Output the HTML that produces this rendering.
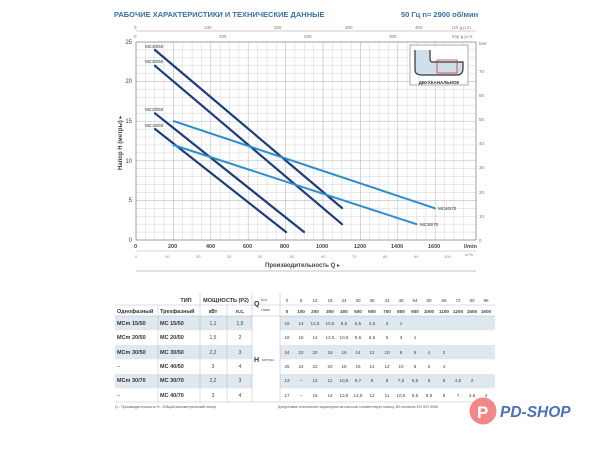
<!DOCTYPE html>
<html><head><meta charset="utf-8"><style>
html,body{margin:0;padding:0;background:#fff;width:600px;height:449px;overflow:hidden}
text{font-family:"Liberation Sans","DejaVu Sans",sans-serif}
</style></head><body>
<svg width="600" height="449" viewBox="0 0 600 449" xmlns="http://www.w3.org/2000/svg">
<text x="114" y="17" font-size="7.5" font-weight="bold" fill="#3b6fa8">РАБОЧИЕ ХАРАКТЕРИСТИКИ И ТЕХНИЧЕСКИЕ ДАННЫЕ</text>
<text x="401" y="17" font-size="7.5" font-weight="bold" fill="#3b6fa8">50 Гц   n= 2900 об/мин</text>
<g stroke="#d0d4d8" stroke-width="0.5">
<path d="M145.35 42V240M154.7 42V240M164.05 42V240M173.4 42V240M182.75 42V240M192.1 42V240M201.45 42V240M210.8 42V240M220.15 42V240M229.5 42V240M238.85 42V240M248.2 42V240M257.55 42V240M266.9 42V240M276.25 42V240M285.6 42V240M294.95 42V240M304.3 42V240M313.65 42V240M323 42V240M332.35 42V240M341.7 42V240M351.05 42V240M360.4 42V240M369.75 42V240M379.1 42V240M388.45 42V240M397.8 42V240M407.15 42V240M416.5 42V240M425.85 42V240M435.2 42V240M444.55 42V240M453.9 42V240M463.25 42V240"/>
<path d="M136 232.08H476M136 224.16H476M136 216.24H476M136 208.32H476M136 200.4H476M136 192.48H476M136 184.56H476M136 176.64H476M136 168.72H476M136 160.8H476M136 152.88H476M136 144.96H476M136 137.04H476M136 129.12H476M136 121.2H476M136 113.28H476M136 105.36H476M136 97.44H476M136 89.52H476M136 81.6H476M136 73.68H476M136 65.76H476M136 57.84H476M136 49.92H476"/>
</g>
<g stroke="#b8bcc0" stroke-width="0.5">
<path d="M173.4 42V240M210.8 42V240M248.2 42V240M285.6 42V240M323 42V240M360.4 42V240M397.8 42V240M435.2 42V240M136 200.4H476M136 160.8H476M136 121.2H476M136 81.6H476"/>
</g>
<rect x="136" y="42" width="340" height="198" fill="none" stroke="#777" stroke-width="0.7"/>
<line x1="136" y1="31" x2="476" y2="31" stroke="#999" stroke-width="0.5"/>
<g font-size="4.5" fill="#777">
<text x="134" y="29">0</text><text x="204" y="29">100</text><text x="274" y="29">200</text><text x="345" y="29">300</text><text x="415" y="29">400</text><text x="452" y="29">US g.p.m.</text>
<text x="134" y="38">0</text><text x="219" y="38">100</text><text x="304" y="38">200</text><text x="389" y="38">300</text><text x="452" y="38">Imp g.p.m.</text>
</g>
<g font-size="6" fill="#444" text-anchor="end">
<text x="132" y="44">25</text><text x="132" y="83">20</text><text x="132" y="123">15</text><text x="132" y="163">10</text><text x="132" y="202">5</text><text x="132" y="242">0</text>
</g>
<text transform="translate(122,170) rotate(-90)" font-size="6" font-weight="bold" fill="#444">Напор H (метры) ▸</text>
<g font-size="4.5" fill="#777">
<text x="479" y="45">feet</text><text x="479" y="73">70</text><text x="479" y="97">60</text><text x="479" y="121">50</text><text x="479" y="145">40</text><text x="479" y="169">30</text><text x="479" y="194">20</text><text x="479" y="218">10</text><text x="479" y="242">0</text>
</g>
<g font-size="5.5" fill="#444" font-weight="bold">
<text x="134" y="248">0</text><text x="168" y="248">200</text><text x="206" y="248">400</text><text x="243" y="248">600</text><text x="280" y="248">800</text><text x="316" y="248">1000</text><text x="354" y="248">1200</text><text x="391" y="248">1400</text><text x="428" y="248">1600</text><text x="464" y="248">l/min</text>
</g>
<line x1="136" y1="251" x2="476" y2="251" stroke="#aaa" stroke-width="0.5"/>
<g font-size="4" fill="#888">
<text x="135" y="258">0</text><text x="165" y="258">10</text><text x="196" y="258">20</text><text x="227" y="258">30</text><text x="258" y="258">40</text><text x="290" y="258">50</text><text x="321" y="258">60</text><text x="352" y="258">70</text><text x="383" y="258">80</text><text x="414" y="258">90</text><text x="444" y="258">100</text><text x="465" y="256">m³/h</text>
</g>
<text x="265" y="267" font-size="6" font-weight="bold" fill="#444">Производительность Q ▸</text>
<line x1="136" y1="271" x2="476" y2="271" stroke="#888" stroke-width="0.5"/>
<rect x="410" y="45" width="58" height="40" fill="#fff" stroke="#888" stroke-width="0.7"/>
<path d="M415 50 V70 Q415 75 422 75 H457 Q463 75 463 68 V62 H432 Q430 62 430 58 V50" fill="#cfe0ec" stroke="#333" stroke-width="1.2"/>
<rect x="437" y="60" width="20" height="13" fill="none" stroke="#c33" stroke-width="0.8"/>
<text x="439" y="84" font-size="4.5" font-weight="bold" fill="#333" text-anchor="middle">ДВУХКАНАЛЬНОЕ</text>
<g stroke="#1f3c7a" stroke-width="2.2" stroke-linecap="round">
<line x1="155" y1="50" x2="342" y2="208"/>
<line x1="155" y1="65.8" x2="342" y2="224.2"/>
<line x1="155" y1="113.3" x2="304" y2="232"/>
<line x1="155" y1="129" x2="286" y2="232"/>
</g>
<g stroke="#2a8fcb" stroke-width="2" stroke-linecap="round">
<line x1="174" y1="121.2" x2="435" y2="208.3"/>
<line x1="173.4" y1="145" x2="416.5" y2="224.2"/>
</g>
<g font-size="4.5" fill="#333">
<text x="145" y="48">MC40/50</text><text x="145" y="63">MC30/50</text><text x="145" y="111">MC20/50</text><text x="145" y="127">MC15/50</text>
<text x="438" y="210">MC40/70</text><text x="420" y="226">MC30/70</text>
</g>
<g>
<rect x="115" y="316" width="380" height="14.3" fill="#dfe7ef"/>
<rect x="115" y="345" width="380" height="14.3" fill="#dfe7ef"/>
<rect x="115" y="374" width="380" height="14.3" fill="#dfe7ef"/>
<rect x="252" y="316" width="28" height="86" fill="#fff"/>
<g stroke="#aab" stroke-width="0.4">
<line x1="115" y1="305" x2="495" y2="305"/><line x1="115" y1="316" x2="495" y2="316"/><line x1="115" y1="402" x2="495" y2="402"/>
<line x1="158" y1="305" x2="158" y2="402"/><line x1="200" y1="293" x2="200" y2="402"/><line x1="227" y1="305" x2="227" y2="402"/><line x1="252" y1="293" x2="252" y2="402"/><line x1="280" y1="293" x2="280" y2="402"/>
</g>
<text x="186" y="302" font-size="5.5" font-weight="bold" fill="#333" text-anchor="middle">ТИП</text>
<text x="226" y="302" font-size="5.5" font-weight="bold" fill="#333" text-anchor="middle">МОЩНОСТЬ (P2)</text>
<text x="117" y="313" font-size="5.5" font-weight="bold" fill="#333">Однофазный</text>
<text x="160" y="313" font-size="5.5" font-weight="bold" fill="#333">Трехфазный</text>
<text x="213" y="313" font-size="5" font-weight="bold" fill="#333" text-anchor="middle">кВт</text>
<text x="240" y="313" font-size="5" font-weight="bold" fill="#333" text-anchor="middle">л.с.</text>
<text x="254" y="306" font-size="7" font-weight="bold" fill="#333">Q</text>
<text x="261" y="301" font-size="3.5" fill="#555">м³/ч</text><text x="261" y="311" font-size="3.5" fill="#555">л/мин</text>
<text x="254" y="362" font-size="7" font-weight="bold" fill="#333">H</text><text x="262" y="361" font-size="4" fill="#555">метры</text>
<g font-size="5.5" font-weight="bold" fill="#333">
<text x="117" y="325">MCm 15/50</text><text x="160" y="325">MC 15/50</text>
<text x="117" y="339">MCm 20/50</text><text x="160" y="339">MC 20/50</text>
<text x="117" y="354">MCm 30/50</text><text x="160" y="354">MC 30/50</text>
<text x="117" y="368" font-weight="normal">–</text><text x="160" y="368">MC 40/50</text>
<text x="117" y="382">MCm 30/70</text><text x="160" y="382">MC 30/70</text>
<text x="117" y="397" font-weight="normal">–</text><text x="160" y="397">MC 40/70</text>
</g>
<g font-size="5" fill="#444" text-anchor="middle">
<text x="213" y="325">1,1</text><text x="240" y="325">1,5</text>
<text x="213" y="339">1,5</text><text x="240" y="339">2</text>
<text x="213" y="354">2,2</text><text x="240" y="354">3</text>
<text x="213" y="368">3</text><text x="240" y="368">4</text>
<text x="213" y="382">2,2</text><text x="240" y="382">3</text>
<text x="213" y="397">3</text><text x="240" y="397">4</text>
</g>
<g font-size="4.6" fill="#444" text-anchor="middle">
<text y="302"><tspan x="287">0</tspan><tspan x="301">6</tspan><tspan x="315">12</tspan><tspan x="330">18</tspan><tspan x="344">24</tspan><tspan x="358">30</tspan><tspan x="372">36</tspan><tspan x="387">42</tspan><tspan x="401">48</tspan><tspan x="415">54</tspan><tspan x="429">60</tspan><tspan x="444">66</tspan><tspan x="458">72</tspan><tspan x="472">90</tspan><tspan x="486">96</tspan></text>
<text y="313" font-weight="bold"><tspan x="287">0</tspan><tspan x="301">100</tspan><tspan x="315">200</tspan><tspan x="330">300</tspan><tspan x="344">400</tspan><tspan x="358">500</tspan><tspan x="372">600</tspan><tspan x="387">700</tspan><tspan x="401">800</tspan><tspan x="415">900</tspan><tspan x="429">1000</tspan><tspan x="444">1100</tspan><tspan x="458">1200</tspan><tspan x="472">1500</tspan><tspan x="486">1600</tspan></text>
<text y="325"><tspan x="287">16</tspan><tspan x="301">14</tspan><tspan x="315">12,5</tspan><tspan x="330">10,5</tspan><tspan x="344">8,5</tspan><tspan x="358">6,5</tspan><tspan x="372">4,5</tspan><tspan x="387">3</tspan><tspan x="401">1</tspan></text>
<text y="339"><tspan x="287">18</tspan><tspan x="301">16</tspan><tspan x="315">14</tspan><tspan x="330">12,5</tspan><tspan x="344">10,5</tspan><tspan x="358">8,5</tspan><tspan x="372">6,5</tspan><tspan x="387">5</tspan><tspan x="401">3</tspan><tspan x="415">1</tspan></text>
<text y="354"><tspan x="287">24</tspan><tspan x="301">22</tspan><tspan x="315">20</tspan><tspan x="330">18</tspan><tspan x="344">16</tspan><tspan x="358">14</tspan><tspan x="372">12</tspan><tspan x="387">10</tspan><tspan x="401">8</tspan><tspan x="415">6</tspan><tspan x="429">4</tspan><tspan x="444">2</tspan></text>
<text y="368"><tspan x="287">25</tspan><tspan x="301">24</tspan><tspan x="315">22</tspan><tspan x="330">20</tspan><tspan x="344">18</tspan><tspan x="358">16</tspan><tspan x="372">14</tspan><tspan x="387">12</tspan><tspan x="401">10</tspan><tspan x="415">8</tspan><tspan x="429">6</tspan><tspan x="444">4</tspan></text>
<text y="382"><tspan x="287">13</tspan><tspan x="301">–</tspan><tspan x="315">12</tspan><tspan x="330">11</tspan><tspan x="344">10,5</tspan><tspan x="358">9,7</tspan><tspan x="372">9</tspan><tspan x="387">8</tspan><tspan x="401">7,5</tspan><tspan x="415">6,5</tspan><tspan x="429">6</tspan><tspan x="444">5</tspan><tspan x="458">4,5</tspan><tspan x="472">2</tspan></text>
<text y="397"><tspan x="287">17</tspan><tspan x="301">–</tspan><tspan x="315">15</tspan><tspan x="330">14</tspan><tspan x="344">13,5</tspan><tspan x="358">12,5</tspan><tspan x="372">12</tspan><tspan x="387">11</tspan><tspan x="401">10,5</tspan><tspan x="415">9,5</tspan><tspan x="429">8,5</tspan><tspan x="444">8</tspan><tspan x="458">7</tspan><tspan x="472">4,8</tspan><tspan x="486">4</tspan></text>
</g>
<text x="115" y="408" font-size="3.6" fill="#555">Q - Производительность   H - Общий манометрический напор</text>
<text x="278" y="408" font-size="3.6" fill="#555">Допустимое отклонение характеристик насосов соответствует классу 3В согласно EN ISO 9906</text>
</g>
<circle cx="483" cy="411" r="13.5" fill="#f07a7a" opacity="0.9"/>
<text x="477" y="418" font-size="17" font-weight="bold" fill="#fff">P</text>
<text x="500" y="417" font-size="15.5" font-weight="bold" font-style="italic" fill="#4a72b8">PD-SHOP</text>
</svg>
</body></html>
